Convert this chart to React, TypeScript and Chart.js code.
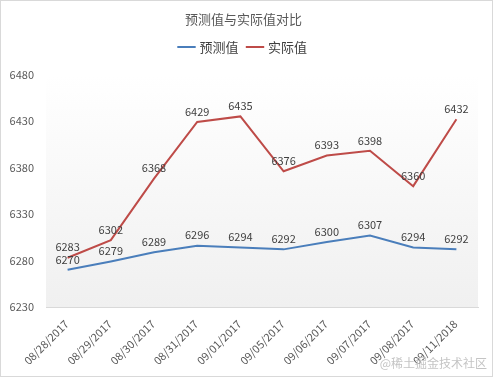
import React, { useEffect, useRef } from "react";
import { Chart, registerables } from "chart.js";

Chart.register(...registerables);

const categories = [
  "08/28/2017",
  "08/29/2017",
  "08/30/2017",
  "08/31/2017",
  "09/01/2017",
  "09/05/2017",
  "09/06/2017",
  "09/07/2017",
  "09/08/2017",
  "09/11/2018",
];
const predicted = [6270, 6279, 6289, 6296, 6294, 6292, 6300, 6307, 6294, 6292];
const actual = [6283, 6302, 6368, 6429, 6435, 6376, 6393, 6398, 6360, 6432];
const yMin = 6230;
const yMax = 6480;
const yStep = 50;

const FONT = "'Microsoft YaHei', 'Noto Sans CJK SC', 'DejaVu Sans', sans-serif";

const bgPlugin = {
  id: "plotBg",
  beforeDraw(chart: any) {
    const { ctx, chartArea } = chart;
    if (!chartArea) return;
    const g = ctx.createLinearGradient(0, chartArea.top, 0, chartArea.bottom);
    g.addColorStop(0, "#ffffff");
    g.addColorStop(1, "#f0f0f0");
    ctx.save();
    ctx.fillStyle = g;
    ctx.fillRect(chartArea.left, chartArea.top, chartArea.right - chartArea.left, chartArea.bottom - chartArea.top);
    ctx.restore();
  },
};

const legendMargin = {
  id: "legendMargin",
  beforeInit(chart: any) {
    const legend = chart.legend;
    if (!legend) return;
    const fit = legend.fit;
    legend.fit = function () {
      fit.bind(legend)();
      this.height += 11;
    };
  },
};

// rotated category labels drawn from the x scale's own tick positions
const xLabelPlugin = {
  id: "xLabels",
  afterDraw(chart: any) {
    const { ctx, chartArea } = chart;
    const xs = chart.scales.x;
    ctx.save();
    ctx.font = `11px ${FONT}`;
    ctx.fillStyle = "#595959";
    ctx.textAlign = "right";
    ctx.textBaseline = "middle";
    chart.data.labels.forEach((lab: string, i: number) => {
      const x = xs.getPixelForTick(i);
      ctx.save();
      ctx.translate(x - 1, chartArea.bottom + 15);
      ctx.rotate(-Math.PI / 4);
      ctx.fillText(lab, 0, 0);
      ctx.restore();
    });
    ctx.restore();
  },
};

const labelPlugin = {
  id: "valueLabels",
  afterDatasetsDraw(chart: any) {
    const { ctx } = chart;
    ctx.save();
    ctx.font = `11px ${FONT}`;
    ctx.fillStyle = "#404040";
    ctx.textAlign = "center";
    ctx.textBaseline = "bottom";
    chart.data.datasets.forEach((ds: any, i: number) => {
      const meta = chart.getDatasetMeta(i);
      meta.data.forEach((pt: any, j: number) => {
        ctx.fillText(String(ds.data[j]), pt.x, pt.y - 5);
      });
    });
    ctx.restore();
  },
};

export default function App() {
  const ref = useRef<HTMLCanvasElement>(null);
  useEffect(() => {
    document.body.style.margin = "0";
    const chart = new Chart(ref.current!, {
      type: "line",
      data: {
        labels: categories,
        datasets: [
          {
            label: "预测值",
            data: predicted,
            borderColor: "#4a7ebb",
            backgroundColor: "#4a7ebb",
            borderWidth: 2,
            pointRadius: 0,
            tension: 0,
          },
          {
            label: "实际值",
            data: actual,
            borderColor: "#be4b48",
            backgroundColor: "#be4b48",
            borderWidth: 2,
            pointRadius: 0,
            tension: 0,
          },
        ],
      },
      options: {
        animation: false,
        responsive: false,
        maintainAspectRatio: false,
        layout: { padding: { left: 8, right: 14, top: 4, bottom: 69 } },
        plugins: {
          title: {
            display: true,
            text: "预测值与实际值对比",
            color: "#595959",
            font: { family: FONT, size: 13, weight: "normal" },
            padding: { top: 6, bottom: 4 },
          },
          legend: {
            display: true,
            position: "top",
            labels: {
              color: "#404040",
              font: { family: FONT, size: 13 },
              usePointStyle: true,
              pointStyle: "line",
              boxWidth: 28,
              padding: 10,
            },
          },
          tooltip: { enabled: false },
        },
        scales: {
          x: {
            offset: true,
            grid: { display: false, drawTicks: false },
            border: { display: true, color: "#d9d9d9", width: 1 },
            ticks: { display: false, autoSkip: false },
          },
          y: {
            min: yMin,
            max: yMax,
            grid: { display: false, drawTicks: false },
            border: { display: false },
            afterFit: (scale: any) => {
              scale.width = 37;
            },
            ticks: {
              stepSize: yStep,
              color: "#595959",
              font: { family: FONT, size: 11 },
              padding: 12,
              callback: (v: any) => String(v),
            },
          },
        },
      },
      plugins: [legendMargin, bgPlugin, labelPlugin, xLabelPlugin],
    });
    return () => chart.destroy();
  }, []);

  return (
    <div
      style={{
        position: "relative",
        width: 493,
        height: 377,
        boxSizing: "border-box",
        border: "1px solid #d9d9d9",
        background: "#ffffff",
      }}
    >
      <canvas ref={ref} width={491} height={375} style={{ display: "block" }} />
      <span
        style={{
          position: "absolute",
          right: 5,
          bottom: 5,
          fontFamily: FONT,
          fontSize: 12,
          color: "#c4c4c4",
        }}
      >
        @稀土掘金技术社区
      </span>
    </div>
  );
}
